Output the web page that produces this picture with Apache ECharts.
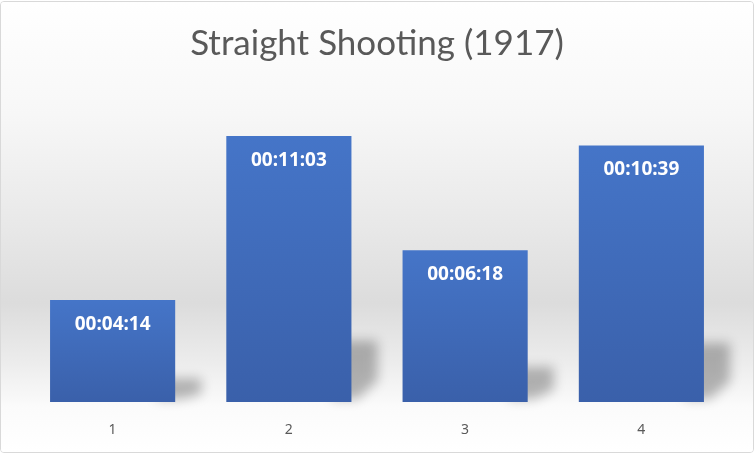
<!DOCTYPE html>
<html>
<head>
<meta charset="utf-8">
<script src="https://cdn.jsdelivr.net/npm/echarts@6/dist/echarts.min.js"></script>
<style>
html,body{margin:0;padding:0;background:#fff;}
#wrap{position:absolute;left:0;top:1px;width:752px;height:450px;border:1px solid #d9d9d9;border-radius:4px;overflow:hidden;}
#chart{width:752px;height:450px;}
</style>
</head>
<body>
<div id="wrap"><div id="chart"></div></div>
<script>
const titleText = 'Straight Shooting (1917)';
const categories = ['1', '2', '3', '4'];
const durations = ['00:04:14', '00:11:03', '00:06:18', '00:10:39'];

function toSeconds(s) {
  const p = s.split(':').map(Number);
  return p[0] * 3600 + p[1] * 60 + p[2];
}
function toClock(v) {
  const h = Math.floor(v / 3600), m = Math.floor((v % 3600) / 60), s = v % 60;
  const f = n => String(n).padStart(2, '0');
  return f(h) + ':' + f(m) + ':' + f(s);
}
const values = durations.map(toSeconds);

const chart = echarts.init(document.getElementById('chart'));
chart.setOption({
  backgroundColor: new echarts.graphic.LinearGradient(0, 0, 0, 1, [
    { offset: 0, color: '#ffffff' },
    { offset: 0.25, color: '#f7f7f7' },
    { offset: 0.5, color: '#e8e8e8' },
    { offset: 0.67, color: '#dcdcdc' },
    { offset: 0.8, color: '#ececec' },
    { offset: 0.9, color: '#fbfbfb' },
    { offset: 1, color: '#ffffff' }
  ]),
  animation: false,
  title: {
    text: titleText,
    left: 'center',
    top: 19,
    textStyle: { fontFamily: 'Lato', fontWeight: 'normal', fontSize: 35, color: '#595959' }
  },
  grid: { left: 23.5, right: 23.5, top: 111, bottom: 50, containLabel: false },
  xAxis: {
    type: 'category',
    data: categories,
    axisLine: { show: false },
    axisTick: { show: false },
    axisLabel: { color: '#595959', fontSize: 14, fontFamily: 'Noto Sans', margin: 21 }
  },
  yAxis: { type: 'value', min: 0, max: 720, show: false, splitLine: { show: false } },
  series: [
    {
      type: 'custom',
      z: 1,
      silent: true,
      clip: false,
      data: values.map((v, i) => [i, v]),
      renderItem: function (params, api) {
        const base = api.coord([api.value(0), 0]);
        const top = api.coord([api.value(0), api.value(1)]);
        const bw = api.size([1, 0])[0] * 0.71;
        const xR = base[0] + bw / 2;
        const yB = base[1];
        const h = yB - top[1];
        const dy = h * 0.23;
        const dx = 26;
        const off = 2000;
        return {
          type: 'polygon',
          shape: { points: [
            [xR - 20 - off, yB - 3],
            [xR - 10 - off, yB - dy],
            [xR + dx - off, yB - dy],
            [xR + dx - off, yB - dy * 0.35],
            [xR + 6 - off, yB - 3]
          ] },
          style: {
            fill: '#000',
            shadowBlur: 12,
            shadowOffsetX: off,
            shadowOffsetY: 0,
            shadowColor: 'rgba(0,0,0,0.28)'
          }
        };
      }
    },
    {
      type: 'bar',
      z: 2,
      data: values,
      barWidth: '71%',
      itemStyle: {
        color: new echarts.graphic.LinearGradient(0, 0, 0, 1, [
          { offset: 0, color: '#4575c8' },
          { offset: 1, color: '#3a60aa' }
        ])
      },
      label: {
        show: true,
        position: 'insideTop',
        distance: 15,
        formatter: p => toClock(p.value),
        color: '#ffffff',
        fontFamily: 'Noto Sans',
        fontWeight: 'bold',
        fontSize: 19
      }
    }
  ]
});
</script>
</body>
</html>
